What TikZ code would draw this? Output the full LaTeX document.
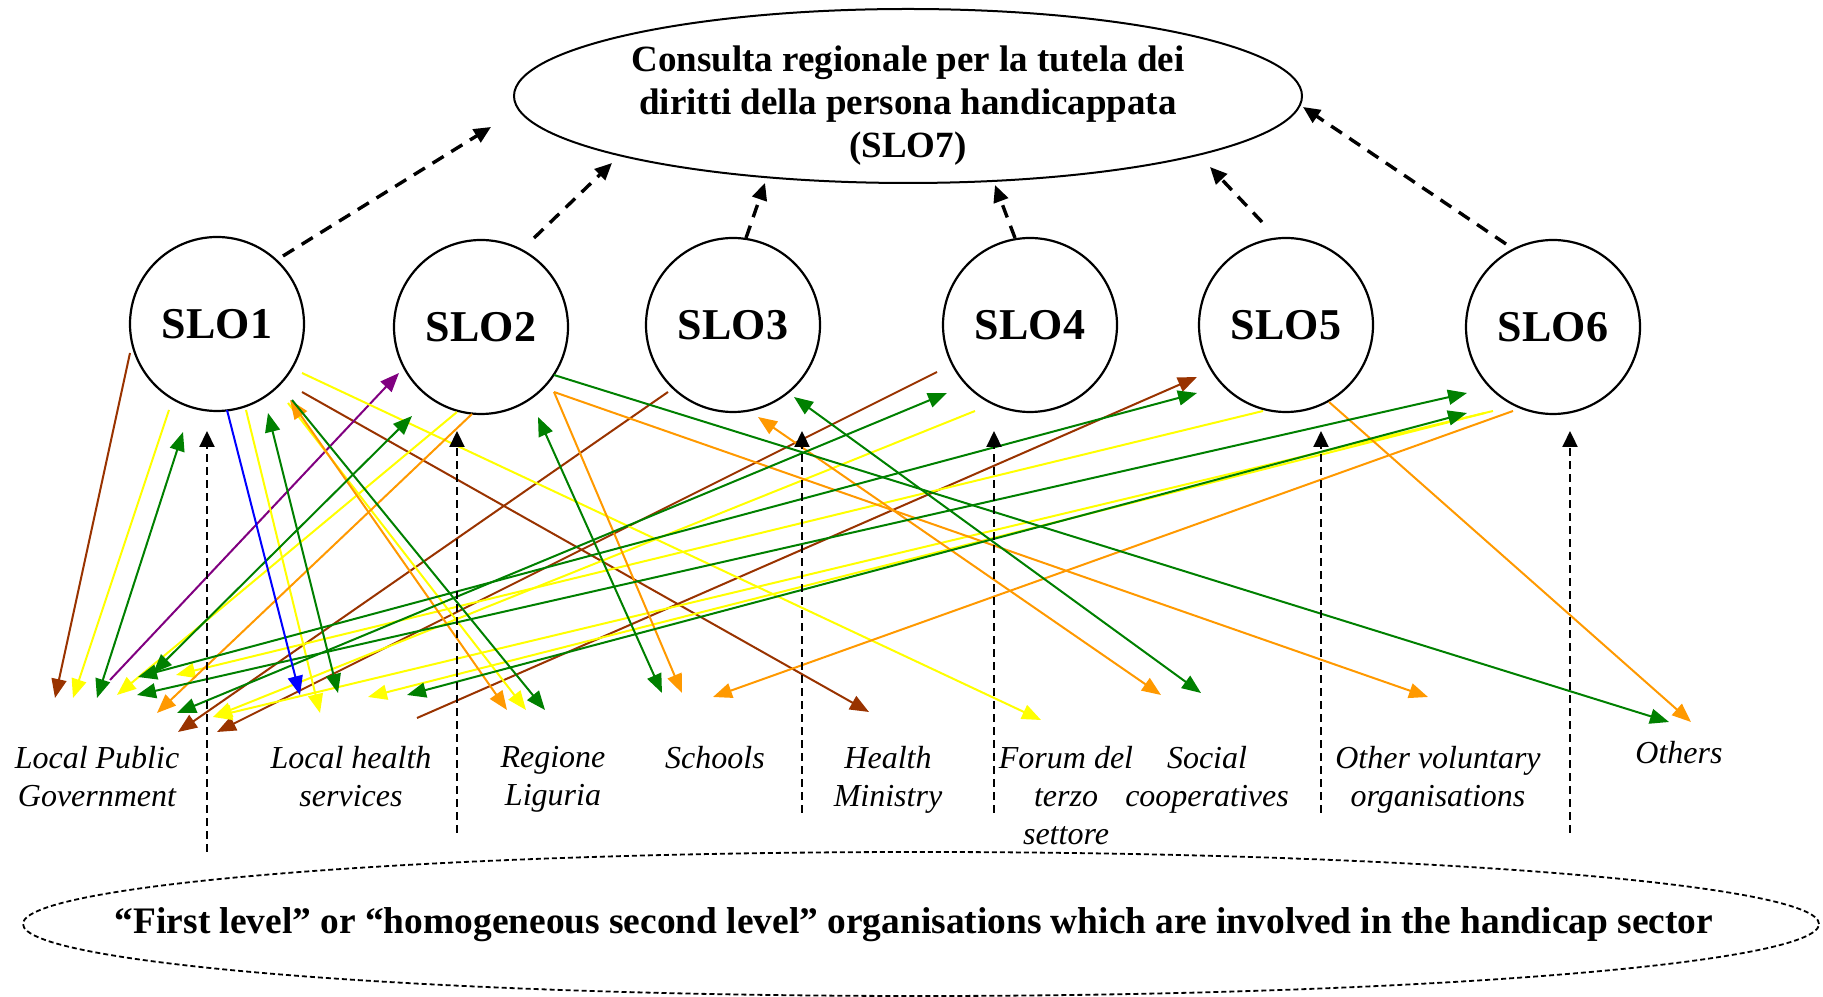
\documentclass[tikz,border=0pt]{standalone}
\usepackage{fontspec}
\setmainfont{Liberation Serif}
\usetikzlibrary{arrows.meta,calc,shapes.geometric}

\definecolor{brn}{RGB}{153,51,0}
\definecolor{org}{RGB}{255,153,0}
\definecolor{yel}{RGB}{255,255,0}
\definecolor{grn}{RGB}{0,128,0}
\definecolor{blu}{RGB}{0,0,255}
\definecolor{prp}{RGB}{128,0,128}

\tikzset{
  slo/.style={circle,draw,line width=2.2pt,minimum size=174pt,inner sep=0pt,
    font=\bfseries\fontsize{44}{50}\selectfont},
  actor/.style={anchor=north,inner sep=0pt,align=center,
    font=\itshape\fontsize{32}{38}\selectfont},
  flow/.style={line width=2pt},
  uni/.style={-{Triangle[length=19pt,width=15pt]}},
  bi/.style={{Triangle[length=19pt,width=15pt]}-{Triangle[length=19pt,width=15pt]}},
  link/.style={line width=2.2pt,dash pattern=on 8pt off 5pt,
    -{Triangle[length=16pt,width=15pt]}},
  uplink/.style={line width=3.4pt,dash pattern=on 13pt off 9pt,
    -{Triangle[length=17pt,width=15pt]}},
}

\begin{document}
\begin{tikzpicture}[x=1pt,y=1pt]
\useasboundingbox (0,0) rectangle (1823,996);

% top level
\node[ellipse,draw,line width=2pt,minimum width=788pt,minimum height=174pt,inner sep=0pt] (slo7) at (908,900) {};
\node[align=center,font=\bfseries\fontsize{37}{43}\selectfont] at (908,890)
  {Consulta regionale per la tutela dei\\diritti della persona handicappata\\(SLO7)};

% second level organisations
\node[slo] (slo1) at (217,672) {SLO1};
\node[slo] (slo2) at (481,669) {SLO2};
\node[slo] (slo3) at (733,671) {SLO3};
\node[slo] (slo4) at (1030,671) {SLO4};
\node[slo] (slo5) at (1286,671) {SLO5};
\node[slo] (slo6) at (1553,669) {SLO6};

% actors
\node[actor] (lpg) at (97,250) {Local Public\\Government};
\node[actor] (lhs) at (351,250) {Local health\\services};
\node[actor] (rl) at (553,250) {Regione\\Liguria};
\node[actor] (sch) at (715,250) {Schools};
\node[actor] (hm) at (888,250) {Health\\Ministry};
\node[actor] (ftz) at (1066,250) {Forum del\\terzo\\settore};
\node[actor] (sc) at (1207,250) {Social\\cooperatives};
\node[actor] (ovo) at (1438,250) {Other voluntary\\organisations};
\node[actor] (oth) at (1679,255) {Others};

% first level
\node[ellipse,draw,line width=1.8pt,dash pattern=on 5pt off 3pt,minimum width=1796pt,minimum height=144pt,inner sep=0pt] (base) at (921,72) {};
\node[anchor=base,inner sep=0pt,font=\bfseries\fontsize{37.4}{43}\selectfont] at (914,63)
  {“First level” or “homogeneous second level” organisations which are involved in the handicap sector};

% relations between actors and SLOs
\foreach \col/\src/\p/\dst/\q/\tip in {
  brn/slo1/{-87,-29}/lpg.north/{-42,48}/uni,
  brn/slo1/{85,-68}/hm.north/{-19,34}/uni,
  brn/slo3/{-65,-67}/lpg.north/{81,14}/uni,
  brn/slo4/{-93,-47}/lpg.north/{120,14}/uni,
  brn/lhs.north/{66,28}/slo5/{-89,-52}/uni,
  prp/lpg.north/{13,66}/slo2/{-82,-46}/uni,
  yel/slo1/{-48,-86}/lpg.north/{-24,48}/uni,
  yel/slo2/{-24,-85}/lpg.north/{20,51}/uni,
  yel/slo1/{29,-86}/lhs.north/{-31,33}/uni,
  yel/slo1/{71,-79}/rl.north/{-27,36}/uni,
  yel/slo1/{85,-49}/ftz.north/{-25,26}/uni,
  yel/slo4/{-55,-86}/lpg.north/{116,29}/uni,
  yel/slo5/{-23,-86}/lpg.north/{79,71}/uni,
  yel/slo6/{-60,-84}/lpg.north/{116,29}/uni,
  yel/slo6/{-68,-86}/lhs.north/{17,49}/uni,
  org/slo2/{-9,-87}/lpg.north/{60,33}/uni,
  org/slo1/{73,-76}/rl.north/{-46,36}/bi,
  org/slo2/{73,-65}/sch.north/{-33,53}/uni,
  org/slo2/{73,-65}/ovo.north/{-10,49}/uni,
  org/slo6/{-40,-84}/sch.north/{-2,49}/uni,
  org/slo3/{25,-92}/sc.north/{-46,51}/bi,
  org/slo5/{43,-77}/oth.north/{12,19}/uni,
  grn/slo1/{-34,-108}/lpg.north/{0,48}/bi,
  grn/slo1/{51,-89}/lhs.north/{-13,53}/bi,
  grn/slo1/{75,-76}/rl.north/{-8,36}/uni,
  grn/slo2/{-69,-89}/lpg.north/{56,73}/bi,
  grn/slo2/{57,-90}/sch.north/{-53,53}/bi,
  grn/slo2/{73,-48}/oth.north/{-10,19}/uni,
  grn/slo3/{61,-72}/sc.north/{-6,53}/bi,
  grn/slo4/{-83,-68}/lpg.north/{80,33}/bi,
  grn/slo5/{-89,-68}/lpg.north/{41,69}/bi,
  grn/slo6/{-86,-66}/lpg.north/{40,51}/bi,
  grn/slo6/{-86,-86}/lhs.north/{56,51}/bi,
  blu/slo1/{10,-86}/lhs.north/{-51,51}/uni}
  \draw[flow,\col,\tip] ($(\src)+(\p)$) -- ($(\dst)+(\q)$);

% first level to SLOs
\foreach \n/\p/\q in {1/{-714,72}/{-10,-107}, 2/{-464,91}/{-24,-104},
  3/{-119,111}/{69,-106}, 4/{73,111}/{-36,-106},
  5/{400,111}/{35,-106}, 6/{649,91}/{17,-104}}
  \draw[link] ($(base)+(\p)$) -- ($(slo\n)+(\q)$);

% SLOs to SLO7
\foreach \n/\p/\q in {1/{66,68}/{-417,-31}, 2/{53,89}/{-296,-67},
  3/{13,87}/{-143,-87}, 4/{-15,87}/{87,-89},
  5/{-24,103}/{302,-71}, 6/{-47,83}/{395,-11}}
  \draw[uplink] ($(slo\n)+(\p)$) -- ($(slo7)+(\q)$);
\end{tikzpicture}
\end{document}
